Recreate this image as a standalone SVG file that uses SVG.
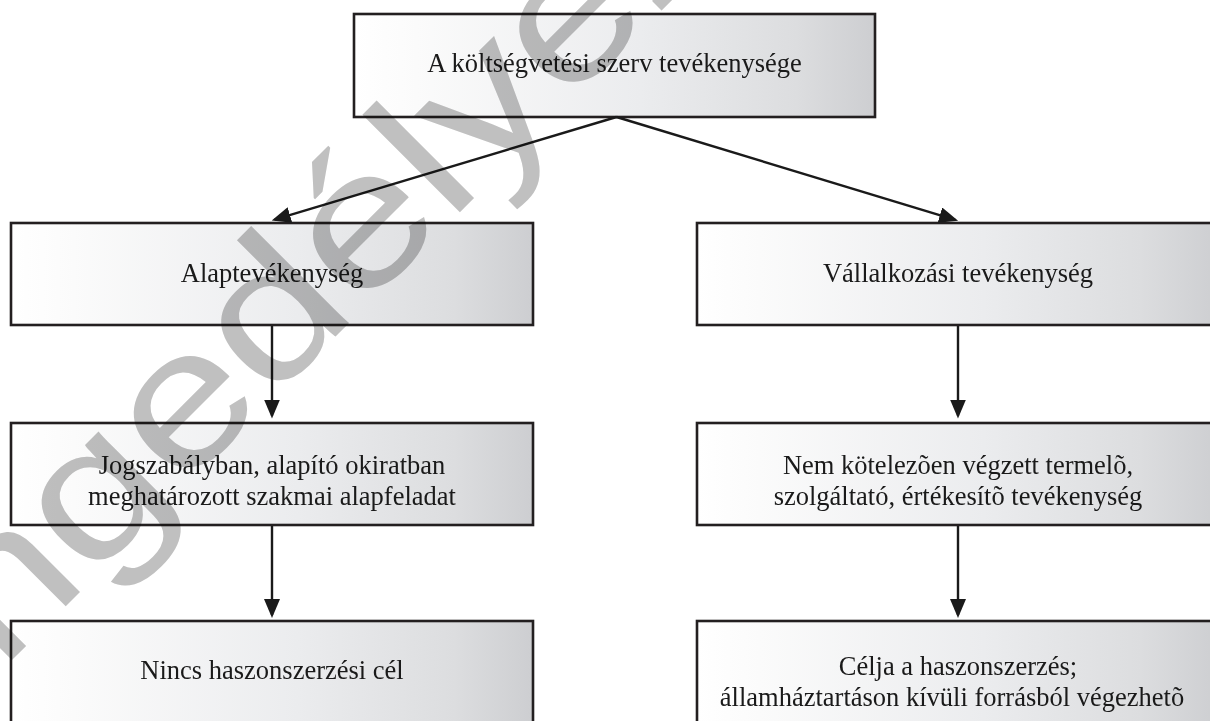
<svg xmlns="http://www.w3.org/2000/svg" width="1210" height="721" viewBox="0 0 1210 721">
  <defs>
    <linearGradient id="boxfill" x1="0" y1="0" x2="1" y2="0">
      <stop offset="0" stop-color="#ffffff"/>
      <stop offset="0.12" stop-color="#fbfbfb"/>
      <stop offset="0.55" stop-color="#ebecee"/>
      <stop offset="0.85" stop-color="#dcdddf"/>
      <stop offset="1" stop-color="#cdced1"/>
    </linearGradient>
    <marker id="arrow" markerUnits="userSpaceOnUse" markerWidth="20" markerHeight="16" refX="16" refY="8" orient="auto">
      <path d="M0,0 L19,8 L0,16 Z" fill="#1a1a1a"/>
    </marker>
    <style>
      .box { fill: url(#boxfill); stroke: #231f20; stroke-width: 2.6; }
      .lbl { font-family: "Liberation Serif", "Times New Roman", serif; font-size: 26.5px; fill: #1a1a1a; text-anchor: middle; }
      .conn { stroke: #1a1a1a; stroke-width: 2.4; fill: none; marker-end: url(#arrow); }
      .wm { font-family: "Liberation Sans", Arial, sans-serif; font-size: 190px; fill: #c0c0c0; mix-blend-mode: multiply; }
    </style>
  </defs>

  <g id="node-top">
    <rect class="box" x="354" y="14" width="521" height="103"/>
    <text class="lbl" x="614.5" y="71.5">A költségvetési szerv tevékenysége</text>
  </g>

  <g id="node-alap">
    <rect class="box" x="11" y="223" width="522" height="102"/>
    <text class="lbl" x="272" y="281.5">Alaptevékenység</text>
  </g>

  <g id="node-vallalkozasi">
    <rect class="box" x="697" y="223" width="522" height="102"/>
    <text class="lbl" x="958" y="281.5">Vállalkozási tevékenység</text>
  </g>

  <g id="node-jogszabaly">
    <rect class="box" x="11" y="423" width="522" height="102"/>
    <text class="lbl" x="272" y="473.5">Jogszabályban, alapító okiratban</text>
    <text class="lbl" x="272" y="504.5">meghatározott szakmai alapfeladat</text>
  </g>

  <g id="node-nemkotelezo">
    <rect class="box" x="697" y="423" width="522" height="102"/>
    <text class="lbl" x="958" y="473.5">Nem kötelezõen végzett termelõ,</text>
    <text class="lbl" x="958" y="504.5">szolgáltató, értékesítõ tevékenység</text>
  </g>

  <g id="node-nincs">
    <rect class="box" x="11" y="621" width="522" height="104"/>
    <text class="lbl" x="272" y="679">Nincs haszonszerzési cél</text>
  </g>

  <g id="node-celja">
    <rect class="box" x="697" y="621" width="522" height="104"/>
    <text class="lbl" x="958" y="674.5">Célja a haszonszerzés;</text>
    <text class="lbl" x="952" y="705.5">államháztartáson kívüli forrásból végezhetõ</text>
  </g>

  <g id="connectors">
    <line class="conn" x1="616.5" y1="117" x2="274.6" y2="219.6"/>
    <line class="conn" x1="616.5" y1="117" x2="955.2" y2="219.8"/>
    <line class="conn" x1="272" y1="326" x2="272" y2="415.5"/>
    <line class="conn" x1="272" y1="526" x2="272" y2="615"/>
    <line class="conn" x1="958" y1="326" x2="958" y2="415.5"/>
    <line class="conn" x1="958" y1="526" x2="958" y2="615"/>
  </g>

  <g id="watermark">
    <text class="wm" x="0" y="0" transform="translate(-89 761) rotate(-45) scale(1.2 1)">engedélyezve</text>
  </g>
</svg>
